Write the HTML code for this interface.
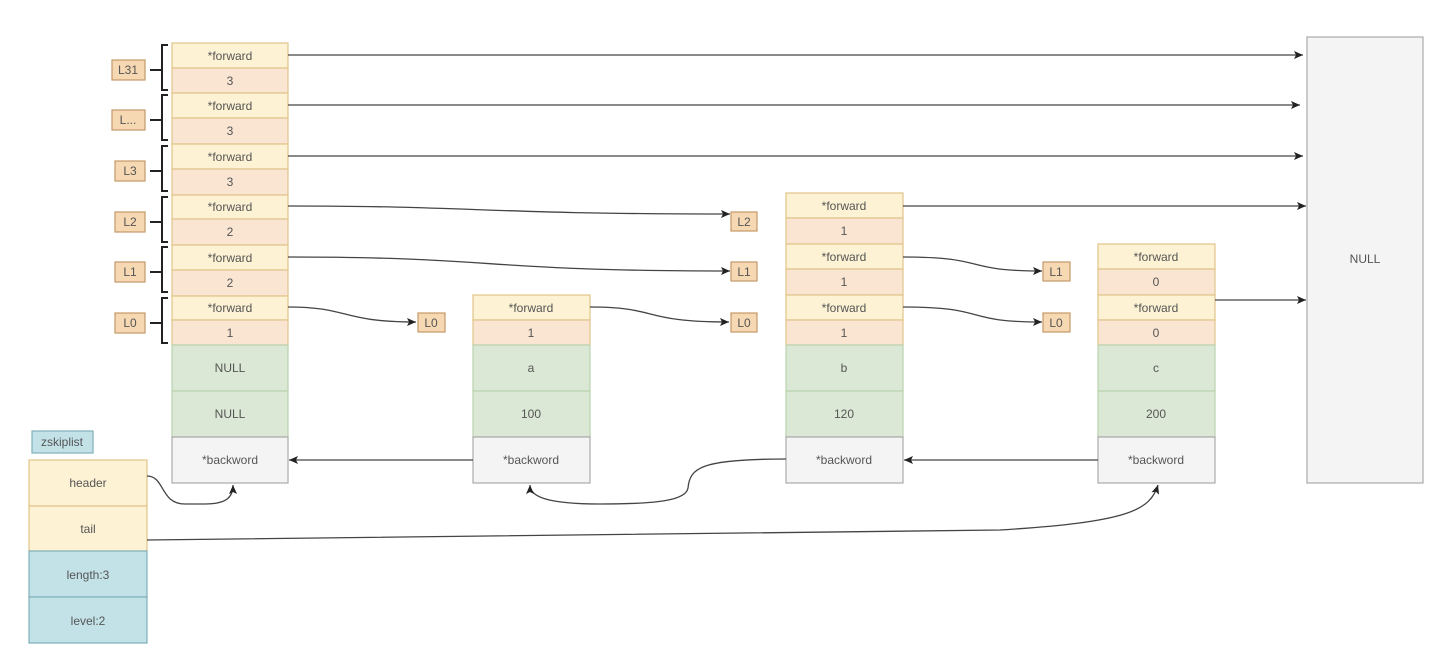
<!DOCTYPE html>
<html><head><meta charset="utf-8"><style>
html,body{margin:0;padding:0;background:#fff;}
svg{display:block;}
text{font-family:"Liberation Sans",sans-serif;font-size:12px;fill:#555;text-anchor:middle;dominant-baseline:central;}
</style></head><body>
<svg width="1452" height="658" viewBox="0 0 1452 658" xmlns="http://www.w3.org/2000/svg">
<defs>
<marker id="ah" markerWidth="10" markerHeight="10" refX="9" refY="5" orient="auto" markerUnits="userSpaceOnUse">
<path d="M0,1 L9,5 L0,9 L2,5 Z" fill="#222"/></marker>
</defs>
<g stroke-width="1.2">
<!-- header column -->
<g stroke="#e0c48a">
<rect x="172" y="43" width="116" height="25" fill="#fdf2d3"/><rect x="172" y="68" width="116" height="25" fill="#fae5d2"/>
<rect x="172" y="93" width="116" height="25" fill="#fdf2d3"/><rect x="172" y="118" width="116" height="26" fill="#fae5d2"/>
<rect x="172" y="144" width="116" height="25" fill="#fdf2d3"/><rect x="172" y="169" width="116" height="26" fill="#fae5d2"/>
<rect x="172" y="195" width="116" height="24" fill="#fdf2d3"/><rect x="172" y="219" width="116" height="26" fill="#fae5d2"/>
<rect x="172" y="245" width="116" height="25" fill="#fdf2d3"/><rect x="172" y="270" width="116" height="26" fill="#fae5d2"/>
<rect x="172" y="296" width="116" height="24" fill="#fdf2d3"/><rect x="172" y="320" width="116" height="25" fill="#fae5d2"/>
<!-- a -->
<rect x="473" y="295" width="117" height="25" fill="#fdf2d3"/><rect x="473" y="320" width="117" height="25" fill="#fae5d2"/>
<!-- b -->
<rect x="786" y="193" width="117" height="25" fill="#fdf2d3"/><rect x="786" y="218" width="117" height="26" fill="#fae5d2"/>
<rect x="786" y="244" width="117" height="25" fill="#fdf2d3"/><rect x="786" y="269" width="117" height="26" fill="#fae5d2"/>
<rect x="786" y="295" width="117" height="25" fill="#fdf2d3"/><rect x="786" y="320" width="117" height="25" fill="#fae5d2"/>
<!-- c -->
<rect x="1098" y="244" width="117" height="25" fill="#fdf2d3"/><rect x="1098" y="269" width="117" height="26" fill="#fae5d2"/>
<rect x="1098" y="295" width="117" height="25" fill="#fdf2d3"/><rect x="1098" y="320" width="117" height="25" fill="#fae5d2"/>
<!-- zskiplist -->
<rect x="29" y="460" width="118" height="46" fill="#fdf2d3"/><rect x="29" y="506" width="118" height="45" fill="#fdf2d3"/>
</g>
<g stroke="#b9d3ae" fill="#dbe8d5">
<rect x="172" y="345" width="116" height="46"/><rect x="172" y="391" width="116" height="46"/>
<rect x="473" y="345" width="117" height="46"/><rect x="473" y="391" width="117" height="46"/>
<rect x="786" y="345" width="117" height="46"/><rect x="786" y="391" width="117" height="46"/>
<rect x="1098" y="345" width="117" height="46"/><rect x="1098" y="391" width="117" height="46"/>
</g>
<g stroke="#aaa" fill="#f4f4f4">
<rect x="172" y="437" width="116" height="46"/><rect x="473" y="437" width="117" height="46"/>
<rect x="786" y="437" width="117" height="46"/><rect x="1098" y="437" width="117" height="46"/>
<rect x="1307" y="37" width="116" height="446"/>
</g>
<g stroke="#7fb0ba" fill="#c3e2e8">
<rect x="29" y="551" width="118" height="46"/><rect x="29" y="597" width="118" height="46"/>
<rect x="32" y="431" width="61" height="22"/>
</g>
<g stroke="#c49a68" fill="#f6d8b3">
<rect x="112" y="60" width="33" height="20"/><rect x="112" y="110" width="33" height="20"/>
<rect x="115" y="161" width="30" height="20"/><rect x="115" y="212" width="30" height="20"/>
<rect x="115" y="262" width="30" height="20"/><rect x="115" y="313" width="30" height="20"/>
<rect x="418" y="313" width="27" height="19"/>
<rect x="731" y="212" width="26" height="19"/><rect x="731" y="262" width="26" height="19"/><rect x="731" y="313" width="26" height="19"/>
<rect x="1043" y="262" width="27" height="19"/><rect x="1043" y="313" width="27" height="19"/>
</g>
</g>
<!-- brackets -->
<g stroke="#222" stroke-width="2" fill="none">
<path d="M168,45 H162 V90 H168 M162,70 H150"/>
<path d="M168,95 H162 V140 H168 M162,120 H150"/>
<path d="M168,146 H162 V191 H168 M162,171 H150"/>
<path d="M168,197 H162 V242 H168 M162,222 H150"/>
<path d="M168,247 H162 V292 H168 M162,272 H150"/>
<path d="M168,298 H162 V343 H168 M162,323 H150"/>
</g>
<!-- connectors -->
<g stroke="#444" stroke-width="1.3" fill="none" marker-end="url(#ah)">
<path d="M288,55 H1303"/>
<path d="M288,105 H1300"/>
<path d="M288,156 H1303"/>
<path d="M903,206 H1306"/>
<path d="M1215,300 H1306"/>
<path d="M288,206 C480,206 480,214 730,214"/>
<path d="M288,257 C500,257 480,271 730,271"/>
<path d="M288,307 C350,307 340,322 416,322"/>
<path d="M590,307 C660,307 640,322 729,322"/>
<path d="M903,257 C990,257 960,271 1042,271"/>
<path d="M903,307 C990,307 960,322 1042,322"/>
<path d="M473,460 H289"/>
<path d="M1098,460 H904"/>
<path d="M786,459 C700,459 690,468 688,488 C686,500 660,504 600,504 C545,504 530,496 530,485"/>
<path d="M147,476 C165,476 160,504 185,504 L205,504 C228,504 233,496 233,485"/>
<path d="M147,540 L1000,530 C1130,522 1150,510 1158,485"/>
</g>
<!-- text -->
<g>
<text x="230" y="56">*forward</text><text x="230" y="81">3</text>
<text x="230" y="106">*forward</text><text x="230" y="131">3</text>
<text x="230" y="157">*forward</text><text x="230" y="182">3</text>
<text x="230" y="207">*forward</text><text x="230" y="232">2</text>
<text x="230" y="258">*forward</text><text x="230" y="283">2</text>
<text x="230" y="308">*forward</text><text x="230" y="333">1</text>
<text x="230" y="368">NULL</text><text x="230" y="414">NULL</text><text x="230" y="460">*backword</text>
<text x="531" y="308">*forward</text><text x="531" y="333">1</text>
<text x="531" y="368">a</text><text x="531" y="414">100</text><text x="531" y="460">*backword</text>
<text x="844" y="206">*forward</text><text x="844" y="231">1</text>
<text x="844" y="257">*forward</text><text x="844" y="282">1</text>
<text x="844" y="308">*forward</text><text x="844" y="333">1</text>
<text x="844" y="368">b</text><text x="844" y="414">120</text><text x="844" y="460">*backword</text>
<text x="1156" y="257">*forward</text><text x="1156" y="282">0</text>
<text x="1156" y="308">*forward</text><text x="1156" y="333">0</text>
<text x="1156" y="368">c</text><text x="1156" y="414">200</text><text x="1156" y="460">*backword</text>
<text x="1365" y="259">NULL</text>
<text x="88" y="483">header</text><text x="88" y="529">tail</text>
<text x="88" y="575">length:3</text><text x="88" y="621">level:2</text>
<text x="62" y="442">zskiplist</text>
<text x="128" y="70">L31</text><text x="128" y="120">L...</text>
<text x="130" y="171">L3</text><text x="130" y="222">L2</text><text x="130" y="272">L1</text><text x="130" y="323">L0</text>
<text x="431" y="323">L0</text>
<text x="744" y="222">L2</text><text x="744" y="272">L1</text><text x="744" y="323">L0</text>
<text x="1056" y="272">L1</text><text x="1056" y="323">L0</text>
</g>
</svg>
</body></html>
